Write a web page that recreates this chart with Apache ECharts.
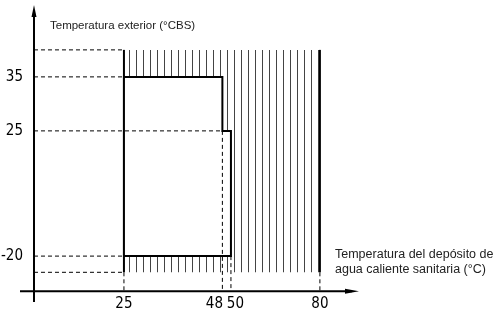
<!DOCTYPE html>
<html>
<head>
<meta charset="utf-8">
<script src="https://cdn.jsdelivr.net/npm/echarts@6/dist/echarts.min.js"></script>
<style>
html, body { margin: 0; padding: 0; background: #fff; }
#grafico { width: 494px; height: 310px; }
</style>
</head>
<body>
<div id="grafico"></div>
<script>
// valores de los ejes
var ticksAgua = [25, 48, 50, 80];
var ticksExterior = [35, 25, -20];

// contorno del rango de funcionamiento (agua °C, exterior °C)
var rangoAgua = [25, 48, 48, 50, 50, 25];
var rangoExterior = [35, 35, 25, 25, -20, -20];

// zona rayada, fuera de rango
var rayadoAgua = [25, 80, 80, 25];
var rayadoExterior = [-23, -23, 40, 40];

// guias discontinuas horizontales (exterior, hasta agua)
var guiaHExterior = [40, 35, 25, -20, -23];
var guiaHAgua = [25, 25, 48, 25, 25];
// guias discontinuas verticales (agua, desde exterior)
var guiaVAgua = [25, 48, 50, 80];
var guiaVExterior = [-23, 25, -20, -23];

// extension de los ejes y punto de cruce del eje horizontal
var aguaMin = -3.27, aguaMax = 87.5;
var extMin = -28.5, extMax = 47.2;
var baseEje = -26.5;

var fuenteNum = '"Liberation Sans Narrow", "DejaVu Sans Condensed", sans-serif';
var fuenteTxt = '"Liberation Sans", Arial, sans-serif';

function patronRayado() {
    var c = document.createElement('canvas');
    c.width = 7;
    c.height = 4;
    var ctx = c.getContext('2d');
    ctx.fillStyle = '#fff';
    ctx.fillRect(0, 0, 7, 4);
    ctx.fillStyle = '#444';
    ctx.fillRect(3, 0, 1, 4);
    return c;
}
var patron = patronRayado();

function linea(a, b, estilo) {
    return { type: 'line', shape: { x1: a[0], y1: a[1], x2: b[0], y2: b[1] }, style: estilo };
}

function dibujar(params, api) {
    var rayado = rayadoAgua.map(function (x, i) { return api.coord([x, rayadoExterior[i]]); });
    var rango = rangoAgua.map(function (x, i) { return api.coord([x, rangoExterior[i]]); });
    var negro = { stroke: '#000', lineWidth: 2 };
    var hijos = [
        { type: 'polygon', shape: { points: rayado }, style: { fill: { image: patron, repeat: 'repeat' }, stroke: null } },
        linea(rayado[0], rayado[3], negro),
        linea(rayado[1], rayado[2], negro),
        { type: 'polygon', shape: { points: rango }, style: { fill: '#fff', stroke: '#000', lineWidth: 2 } }
    ];
    var guia = { stroke: '#000', lineWidth: 1, lineDash: [4, 3] };
    guiaHExterior.forEach(function (y, i) {
        hijos.push(linea(api.coord([0, y]), api.coord([guiaHAgua[i], y]), guia));
    });
    guiaVAgua.forEach(function (x, i) {
        hijos.push(linea(api.coord([x, guiaVExterior[i]]), api.coord([x, baseEje]), guia));
    });

    // ejes con flecha (la linea del eje de ECharts se corta en las roturas)
    var y0 = api.coord([0, extMin]), y1 = api.coord([0, extMax]);
    var x0 = api.coord([aguaMin, baseEje]), x1 = api.coord([aguaMax, baseEje]);
    hijos.push(linea(y0, y1, negro));
    hijos.push(linea(x0, x1, negro));
    hijos.push({ type: 'polygon', shape: { points: [[y1[0], y1[1] - 6], [y1[0] - 2.5, y1[1] + 6], [y1[0] + 2.5, y1[1] + 6]] }, style: { fill: '#000' } });
    hijos.push({ type: 'polygon', shape: { points: [[x1[0] + 7, x1[1]], [x1[0] - 7, x1[1] - 2.5], [x1[0] - 7, x1[1] + 2.5]] }, style: { fill: '#000' } });
    return { type: 'group', children: hijos };
}

var myChart = echarts.init(document.getElementById('grafico'));

var option = {
    animation: false,
    grid: { left: 20, right: 142, top: 11, bottom: 8, outerBoundsMode: 'none' },
    xAxis: {
        type: 'value',
        min: aguaMin,
        max: aguaMax,
        position: 'bottom',
        offset: -11,
        breaks: [
            { start: 5, end: 20, gap: '14.2%' },
            { start: 55, end: 75, gap: '13.9%' }
        ],
        breakArea: { show: false },
        axisLine: { show: false, onZero: false },
        axisTick: { show: false },
        splitLine: { show: false },
        axisLabel: {
            customValues: ticksAgua,
            margin: 6,
            fontFamily: fuenteNum,
            fontSize: 15,
            color: '#000',
            formatter: function (v) {
                if (v === 48) return '{izq|48}';
                if (v === 50) return '{der|50}';
                return String(v);
            },
            rich: {
                izq: { padding: [0, 16, 0, 0] },
                der: { padding: [0, 0, 0, 9] }
            }
        },
        name: 'Temperatura del depósito de\nagua caliente sanitaria (°C)',
        nameLocation: 'end',
        nameGap: -17,
        nameTextStyle: {
            fontFamily: fuenteTxt,
            fontSize: 12.5,
            color: '#222',
            align: 'left',
            verticalAlign: 'bottom',
            lineHeight: 15,
            padding: [0, 0, 14, 0]
        }
    },
    yAxis: {
        type: 'value',
        min: extMin,
        max: extMax,
        breaks: [{ start: -15, end: 20, gap: '24.47%' }],
        breakArea: { show: false },
        axisLine: { show: false, onZero: true },
        axisTick: { show: false },
        splitLine: { show: false },
        axisLabel: {
            customValues: ticksExterior,
            margin: -3,
            fontFamily: fuenteNum,
            fontSize: 15,
            color: '#000'
        },
        name: 'Temperatura exterior (°CBS)',
        nameLocation: 'end',
        nameGap: -15,
        nameTextStyle: {
            fontFamily: fuenteTxt,
            fontSize: 11.5,
            color: '#222',
            align: 'left',
            verticalAlign: 'middle',
            padding: [0, 0, 0, 16]
        }
    },
    series: [
        {
            type: 'custom',
            coordinateSystem: 'cartesian2d',
            silent: true,
            clip: false,
            data: [[0, 0]],
            renderItem: dibujar
        }
    ]
};

myChart.setOption(option);
</script>
</body>
</html>
